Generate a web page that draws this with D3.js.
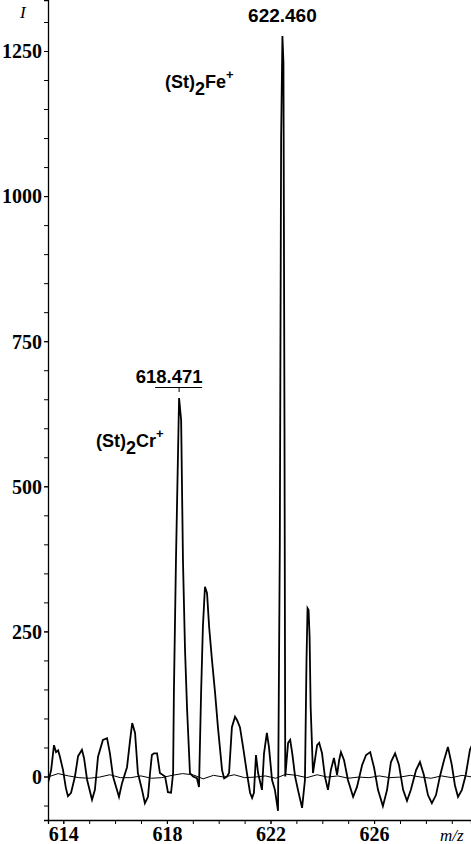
<!DOCTYPE html>
<html><head><meta charset="utf-8">
<script src="https://cdn.jsdelivr.net/npm/d3@7"></script>
<style>html,body{margin:0;padding:0;background:#fff;}svg{display:block;}</style>
</head><body>
<script>
// m/z values and intensities of the bold trace
const mzA = [613.41,613.53,613.64,613.72,613.80,613.87,613.99,614.10,614.18,614.30,614.45,614.57,614.72,614.80,614.92,615.11,615.22,615.34,615.53,615.69,615.80,615.92,616.07,616.15,616.27,616.46,616.58,616.66,616.77,616.88,617.04,617.15,617.27,617.35,617.42,617.50,617.62,617.73,617.93,618.04,618.16,618.24,618.27,618.35,618.47,618.55,618.62,618.70,618.78,618.89,619.01,619.16,619.24,619.32,619.39,619.47,619.55,619.63,619.74,619.86,619.97,620.13,620.21,620.32,620.40,620.51,620.63,620.71,620.82,620.94,621.09,621.21,621.29,621.36,621.44,621.52,621.67,621.75,621.86,621.94,622.06,622.17,622.29,622.36,622.41,622.46,622.50,622.54,622.57,622.68,622.76,622.84,622.95,623.06,623.22,623.33,623.39,623.43,623.47,623.51,623.55,623.64,623.80,623.88,623.99,624.10,624.22,624.33,624.45,624.57,624.65,624.72,624.84,624.99,625.19,625.34,625.54,625.69,625.85,626.00,626.15,626.34,626.50,626.65,626.81,626.96,627.12,627.27,627.42,627.62,627.77,627.92,628.08,628.23,628.39,628.54,628.70,628.85,629.00,629.12,629.24,629.39,629.54,629.70,629.78];
const intA = [-11,11,54,42,45,34,11,-20,-34,-28,0,35,46,32,-6,-40,-23,34,63,66,40,0,-23,-35,-11,16,63,92,75,6,-23,-46,-35,6,37,40,40,6,0,-27,-28,6,144,373,652,614,373,218,115,6,0,-3,-18,144,258,327,316,258,201,144,85,11,-3,0,6,85,103,97,85,51,6,-28,-37,-28,37,6,-23,40,75,51,-6,-23,-59,400,1100,1276,1230,600,0,58,63,40,0,-23,-54,-6,200,290,287,240,120,6,54,58,40,0,-23,11,32,3,28,42,28,-6,-35,-18,20,37,42,15,-23,-51,-23,25,40,20,-23,-42,-23,11,25,3,-32,-46,-32,0,28,51,20,-15,-35,-23,3,46,54];
// m/z values and intensities of the thin, nearly flat trace
const mzB = [613.4,613.8,614.2,614.6,615.0,615.4,615.8,616.2,616.6,617.0,617.4,617.8,618.2,618.6,619.0,619.4,619.8,620.2,620.6,621.0,621.4,621.8,622.2,622.6,623.0,623.4,623.8,624.2,624.6,625.0,625.4,625.8,626.2,626.6,627.0,627.4,627.8,628.2,628.6,629.0,629.4,629.8];
const intB = [-1,5,1,-2,-3,-1,3,-2,-2,1,-3,-2,2,5,3,-4,2,-1,3,-2,-1,1,-3,4,2,-2,3,-1,1,-3,-1,-2,1,-2,-1,2,-1,-3,1,-2,2,-1];
// tick labels
const xTickLabels = [614, 618, 622, 626];
const xMinorTicks = [614,615,616,617,618,619,620,621,622,623,624,625,626,627,628,629,630];
const yTickLabels = [0, 250, 500, 750, 1000, 1250];
const yMinorTicks = [-50,0,50,100,150,200,250,300,350,400,450,500,550,600,650,700,750,800,850,900,950,1000,1050,1100,1150,1200,1250,1300];
// peak annotations
const peakLabels = ["618.471", "622.460"];
const peakPos = [618.471, 622.46];

const W = 471, H = 844;
const axisX = 48, axisY = 820;
const svg = d3.select("body").append("svg").attr("width", W).attr("height", H);
svg.append("rect").attr("width", W).attr("height", H).attr("fill", "#fff");

const x = d3.scaleLinear().domain([614, 626]).range([63.3, 374.1]);
const y = d3.scaleLinear().domain([0, 1250]).range([776.5, 51]);

svg.append("clipPath").attr("id", "c").append("rect")
  .attr("x", axisX + 1).attr("y", 0).attr("width", W - axisX).attr("height", axisY);

const line = d3.line().x(d => x(d[0])).y(d => y(d[1]));
const g = svg.append("g").attr("clip-path", "url(#c)");
g.append("path").datum(mzB.map((m, i) => [m, intB[i]]))
  .attr("d", line).attr("fill", "none").attr("stroke", "#000").attr("stroke-width", 1);
g.append("path").datum(mzA.map((m, i) => [m, intA[i]]))
  .attr("d", line).attr("fill", "none").attr("stroke", "#000").attr("stroke-width", 1.8)
  .attr("stroke-linejoin", "miter");

// axes
const serif = "'Liberation Serif', 'Times New Roman', serif";
const yAxisScale = d3.scaleLinear().domain([y.invert(axisY), y.invert(0)]).range([axisY, 0]);
const yMinor = svg.append("g").attr("transform", `translate(${axisX},0)`)
  .call(d3.axisLeft(yAxisScale).tickValues(yMinorTicks).tickSize(4).tickFormat(""));
yMinor.select(".domain").attr("stroke", "#000").attr("stroke-width", 1.3);
const yMaj = svg.append("g").attr("transform", `translate(${axisX},0)`)
  .call(d3.axisLeft(yAxisScale).tickValues(yTickLabels).tickSize(4).tickPadding(2).tickFormat(d3.format("d")));
yMaj.select(".domain").remove();
yMaj.selectAll("text").attr("font-family", serif).attr("font-weight", "bold")
  .attr("font-size", 20).attr("fill", "#000").attr("dy", "0.34em");

const xAxisScale = d3.scaleLinear().domain([x.invert(axisX), x.invert(W)]).range([axisX, W]);
const xMinor = svg.append("g").attr("transform", `translate(0,${axisY})`)
  .call(d3.axisBottom(xAxisScale).tickValues(xMinorTicks).tickSize(4).tickFormat(""));
xMinor.select(".domain").attr("stroke", "#000").attr("stroke-width", 1.3);
const xMaj = svg.append("g").attr("transform", `translate(0,${axisY})`)
  .call(d3.axisBottom(xAxisScale).tickValues(xTickLabels).tickSize(4).tickFormat(d3.format("d")));
xMaj.select(".domain").remove();
xMaj.selectAll("text").attr("font-family", serif).attr("font-weight", "bold")
  .attr("font-size", 20).attr("fill", "#000").attr("y", 21).attr("dy", 0);
svg.selectAll(".tick line").attr("stroke", "#000");

// axis titles
svg.append("text").attr("x", 20).attr("y", 18).text("I")
  .attr("font-family", serif).attr("font-style", "italic").attr("font-size", 17);
svg.append("text").attr("x", 440).attr("y", 841).text("m/z")
  .attr("font-family", serif).attr("font-style", "italic").attr("font-size", 17);

// peak labels
const lf = "'Liberation Sans', Arial, sans-serif";
svg.append("text").attr("x", x(peakPos[1])).attr("y", 22).attr("text-anchor", "middle")
  .attr("font-family", lf).attr("font-weight", "bold").attr("font-size", 19).text(peakLabels[1]);
svg.append("text").attr("x", x(peakPos[0]) - 10).attr("y", 383).attr("text-anchor", "middle")
  .attr("font-family", lf).attr("font-weight", "bold").attr("font-size", 18.5).text(peakLabels[0]);
svg.append("line").attr("x1", x(peakPos[0]) - 24).attr("x2", x(peakPos[0]) + 23)
  .attr("y1", 387.5).attr("y2", 387.5).attr("stroke", "#000").attr("stroke-width", 1);
svg.append("line").attr("x1", x(peakPos[0])).attr("x2", x(peakPos[0]))
  .attr("y1", 387.5).attr("y2", 392).attr("stroke", "#000").attr("stroke-width", 1);

function formula(xp, yp, metal) {
  const t = svg.append("text").attr("x", xp).attr("y", yp)
    .attr("font-family", lf).attr("font-weight", "bold").attr("font-size", 18);
  t.append("tspan").text("(St)");
  t.append("tspan").attr("dy", 7).text("2");
  t.append("tspan").attr("dy", -7).text(metal);
  t.append("tspan").attr("dy", -9).attr("font-size", 13).text("+");
}
formula(165, 88, "Fe");
formula(96, 447, "Cr");
</script>
</body></html>
